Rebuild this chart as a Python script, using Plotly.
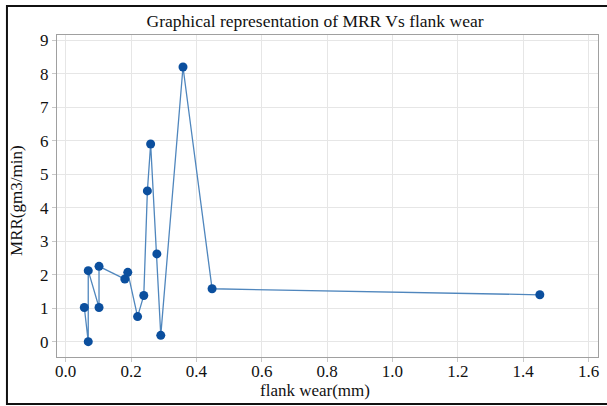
import plotly.graph_objects as go

flank_wear = [0.057, 0.069, 0.069, 0.102, 0.102, 0.181, 0.190, 0.220, 0.239,
              0.250, 0.260, 0.279, 0.291, 0.359, 0.448, 1.451]
mrr = [1.02, 0.0, 2.12, 1.02, 2.25, 1.87, 2.07, 0.75, 1.38,
       4.5, 5.9, 2.62, 0.19, 8.2, 1.58, 1.40]
x_ticks = [0.0, 0.2, 0.4, 0.6, 0.8, 1.0, 1.2, 1.4, 1.6]
x_tick_labels = ["0.0", "0.2", "0.4", "0.6", "0.8", "1.0", "1.2", "1.4", "1.6"]
y_ticks = list(range(0, 10))

FONT = "Liberation Serif"
tick_font = dict(family=FONT, size=17, color="#111111")
label_font = dict(family=FONT, size=17, color="#111111")

fig = go.Figure()
fig.add_trace(go.Scatter(
    x=flank_wear, y=mrr, mode="lines+markers",
    line=dict(color="#4f86bd", width=1.3),
    marker=dict(color="#0b4f9e", size=9),
    showlegend=False,
))

fig.update_layout(
    width=607, height=406,
    margin=dict(l=57, r=9, t=35, b=49),
    paper_bgcolor="white", plot_bgcolor="white",
    font=dict(family=FONT, size=16, color="#111111"),
    title=dict(text="Graphical representation of MRR Vs flank wear",
               x=0.519, xanchor="center", y=0.948, yanchor="middle",
               font=dict(family=FONT, size=17.5, color="#111111")),
    xaxis=dict(range=[-0.0266, 1.629], tickvals=x_ticks, ticktext=x_tick_labels,
               tickfont=tick_font, automargin=False, ticklabelstandoff=-5,
               showgrid=True, gridcolor="#e6e6e6", gridwidth=1,
               showline=True, linecolor="#a0a0a0", linewidth=1, mirror=True,
               ticks="outside", ticklen=4, tickcolor="#c8c8c8",
               zeroline=False),
    yaxis=dict(range=[-0.457, 9.155], tickvals=y_ticks,
               tickfont=tick_font, automargin=False,
               showgrid=True, gridcolor="#e6e6e6", gridwidth=1,
               showline=True, linecolor="#a0a0a0", linewidth=1, mirror=True,
               ticks="outside", ticklen=4, tickcolor="#c8c8c8",
               zeroline=False),
    annotations=[
        dict(text="flank wear(mm)", xref="paper", yref="paper",
             x=0.477, y=-0.104, xanchor="center", yanchor="middle",
             showarrow=False, font=label_font),
        dict(text="MRR(gm3/min)", xref="paper", yref="paper",
             x=-0.074, y=0.4876, xanchor="center", yanchor="middle",
             textangle=-90, showarrow=False, font=label_font),
    ],
    shapes=[dict(type="rect", xref="paper", yref="paper",
                 x0=-0.0925, x1=1.03, y0=-0.146, y1=1.090,
                 line=dict(color="#111111", width=2), layer="above")],
)

fig.write_html("out.html", config={"displayModeBar": False},
               post_script="document.body.style.margin='0';document.body.style.padding='0';")
